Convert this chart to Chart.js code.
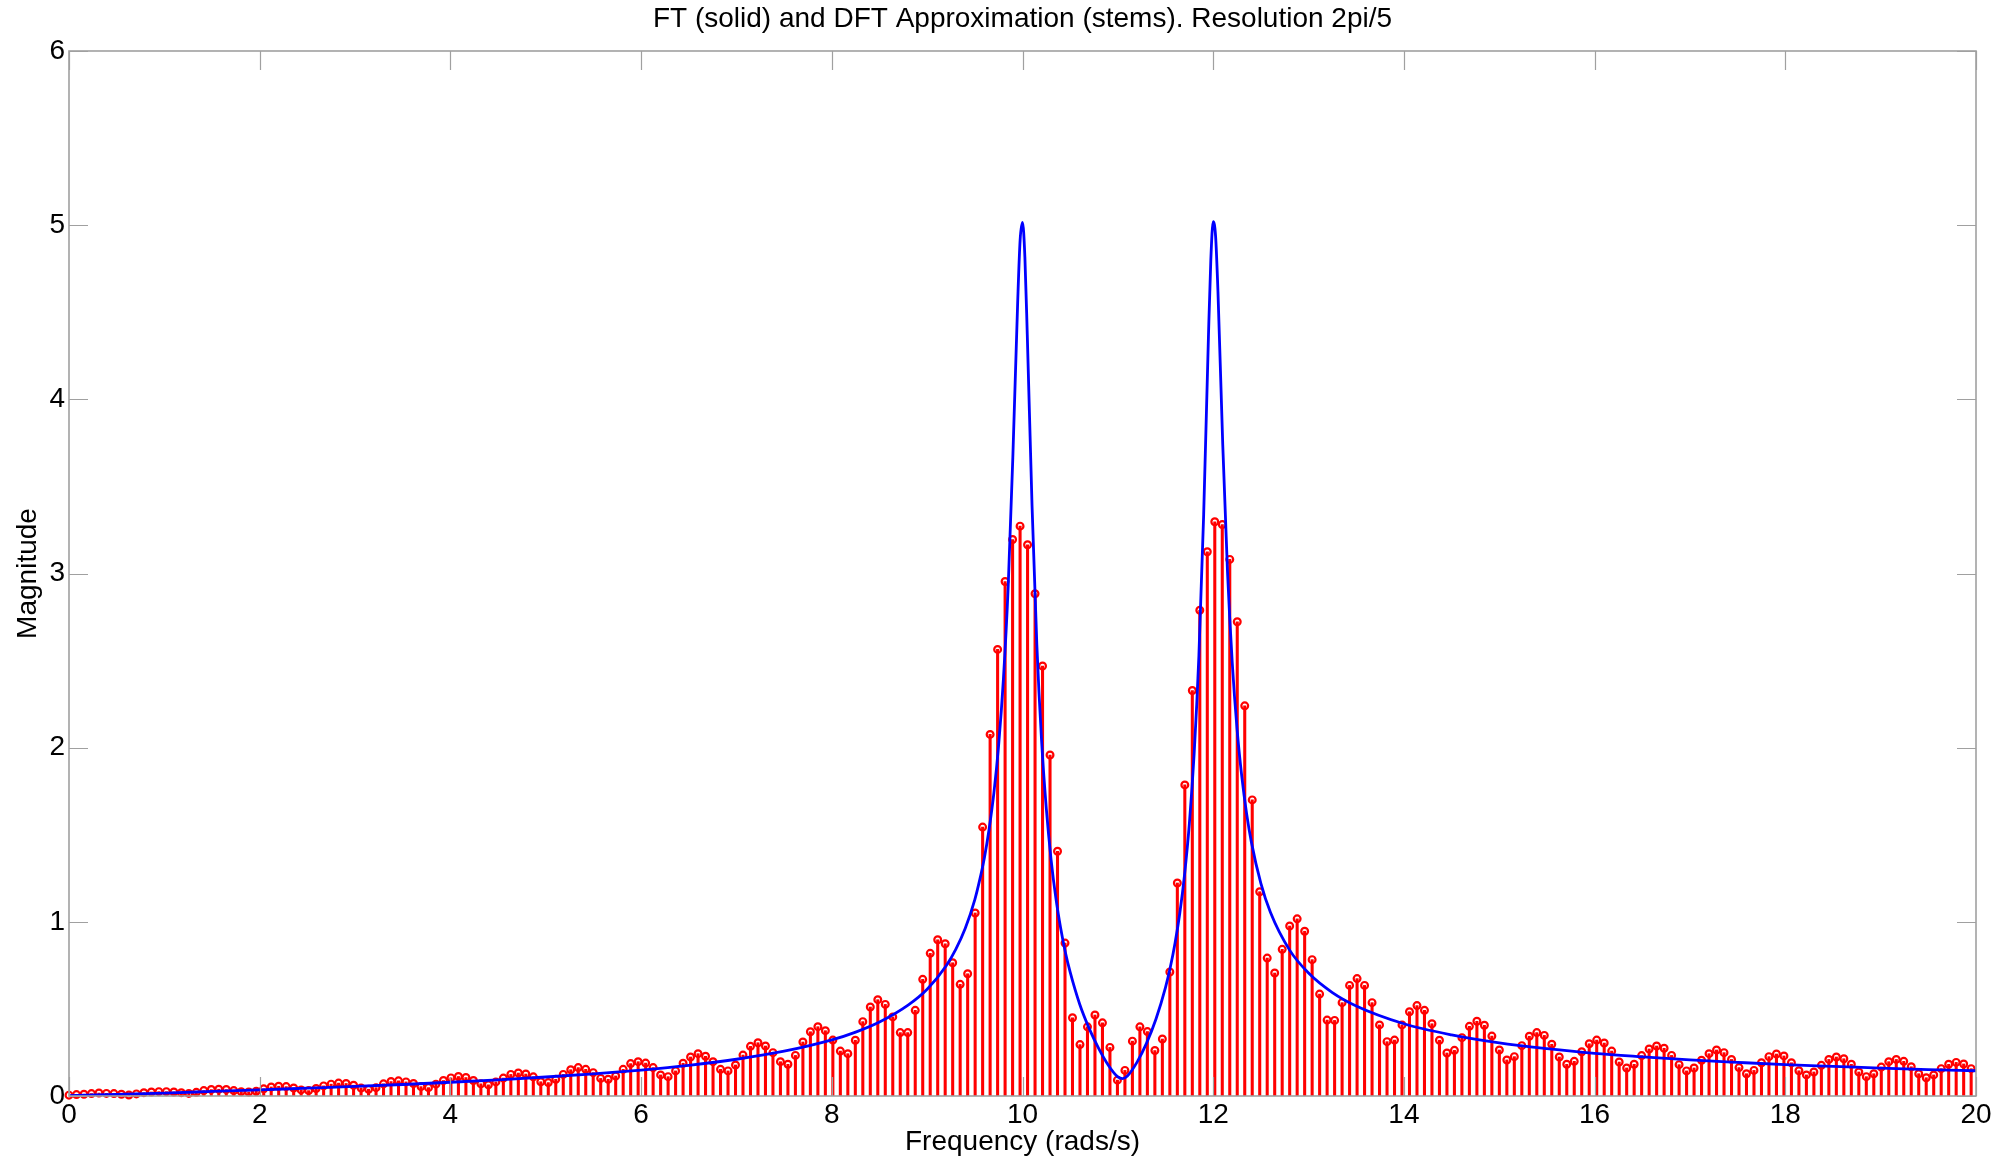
<!DOCTYPE html>
<html>
<head>
<meta charset="utf-8">
<title>FT e DFT</title>
<script src="https://cdn.jsdelivr.net/npm/chart.js@4.4.1/dist/chart.umd.min.js"></script>
<style>
  html, body { margin: 0; padding: 0; background: #fff; }
  canvas { display: block; }
</style>
</head>
<body>
<canvas id="grafico" width="2014" height="1161"></canvas>
<script>
// ===== Dados =====
// espaçamento entre as amostras da DFT (rad/s), ~2pi/80
const passoDft = 0.07854;

// módulo da DFT, uma amostra por haste (k = 0..254)
const dftMag = [
  0.005, 0.008, 0.010, 0.014, 0.017, 0.015, 0.014, 0.010, 0.006, 0.012,
  0.019, 0.023, 0.025, 0.025, 0.023, 0.019, 0.015, 0.021, 0.031, 0.037,
  0.039, 0.037, 0.031, 0.025, 0.023, 0.027, 0.041, 0.052, 0.056, 0.054,
  0.046, 0.035, 0.031, 0.043, 0.058, 0.068, 0.074, 0.072, 0.062, 0.046,
  0.039, 0.048, 0.070, 0.083, 0.087, 0.081, 0.072, 0.054, 0.048, 0.068,
  0.089, 0.104, 0.112, 0.106, 0.089, 0.070, 0.064, 0.081, 0.103, 0.124,
  0.132, 0.126, 0.110,
  0.082, 0.077, 0.096, 0.124, 0.151, 0.163, 0.153, 0.134, 0.101, 0.096,
  0.115, 0.153, 0.186, 0.197, 0.189, 0.163, 0.121, 0.111, 0.144, 0.188,
  0.224, 0.243, 0.228, 0.197, 0.153, 0.144, 0.178, 0.235, 0.285, 0.306,
  0.287, 0.249, 0.197, 0.182, 0.233, 0.310, 0.369, 0.398, 0.375, 0.321,
  0.258, 0.243, 0.320, 0.427, 0.511, 0.553, 0.526, 0.454, 0.364, 0.364,
  0.492, 0.670, 0.819, 0.897, 0.874, 0.765, 0.641, 0.702, 1.051, 1.544,
  2.076, 2.564, 2.954, 3.195, 3.272, 3.165, 2.884, 2.469, 1.958, 1.405,
  0.878, 0.449, 0.295, 0.397, 0.465, 0.420, 0.279, 0.091, 0.147, 0.315,
  0.397, 0.370, 0.261, 0.327, 0.712, 1.223, 1.786, 2.328, 2.789, 3.125,
  3.297, 3.281, 3.081, 2.723, 2.240, 1.700, 1.173, 0.792, 0.706, 0.842,
  0.976, 1.017, 0.946, 0.783, 0.585, 0.436,
  0.434, 0.536, 0.635, 0.674, 0.635, 0.536, 0.408, 0.312, 0.321, 0.408,
  0.484, 0.519, 0.492, 0.415, 0.320, 0.247, 0.262, 0.335, 0.400, 0.429,
  0.406, 0.344, 0.264, 0.207, 0.226, 0.289, 0.343, 0.364, 0.348, 0.297,
  0.224, 0.182, 0.199, 0.254, 0.300, 0.321, 0.304, 0.258, 0.195, 0.161,
  0.182, 0.232, 0.270, 0.287, 0.274, 0.233, 0.180, 0.144, 0.161, 0.205,
  0.243, 0.264, 0.249, 0.210, 0.163, 0.128, 0.147, 0.191, 0.226, 0.241,
  0.230, 0.191, 0.145, 0.121, 0.138,
  0.176, 0.210, 0.224, 0.214, 0.182, 0.138, 0.111, 0.128, 0.166, 0.197,
  0.210, 0.199, 0.168, 0.128, 0.105, 0.121, 0.157, 0.182, 0.193, 0.184,
  0.157
];

// curva contínua (FT): frequências e módulos
const ftFreq = [
  0, 0.5, 1, 1.5, 2, 2.5, 3, 3.5, 4, 4.5,
  5, 5.5, 6, 6.5, 7, 7.5, 8, 8.25, 8.5, 8.8,
  9, 9.2, 9.3, 9.4, 9.5, 9.55, 9.6, 9.65, 9.7, 9.75,
  9.8, 9.85, 9.9, 9.95, 9.975, 10, 10.025, 10.05, 10.1, 10.15,
  10.2, 10.25, 10.3, 10.35, 10.4, 10.45, 10.5, 10.6, 10.7, 10.8,
  10.9, 11, 11.05, 11.1, 11.2, 11.3, 11.4, 11.5, 11.55, 11.6,
  11.65, 11.7, 11.75, 11.8, 11.85, 11.9, 11.95, 11.975, 12, 12.025,
  12.05, 12.1, 12.15, 12.2, 12.25, 12.3, 12.35, 12.4, 12.5, 12.6,
  12.8, 13, 13.25, 13.5, 14, 14.5, 15, 15.5, 16, 16.5,
  17, 17.5, 18, 18.5, 19, 19.5, 20
];
const ftMag = [
  0.002, 0.009, 0.017, 0.026, 0.035, 0.045, 0.055, 0.066, 0.079, 0.093,
  0.109, 0.127, 0.149, 0.176, 0.211, 0.257, 0.322, 0.367, 0.425, 0.522,
  0.613, 0.748, 0.842, 0.963, 1.128, 1.238, 1.367, 1.533, 1.740, 2.016,
  2.395, 2.925, 3.690, 4.567, 4.914, 5.016, 4.817, 4.373, 3.390, 2.595,
  2.041, 1.649, 1.356, 1.136, 0.965, 0.824, 0.711, 0.527, 0.387, 0.272,
  0.177, 0.110, 0.100, 0.115, 0.193, 0.302, 0.442, 0.624, 0.739, 0.879,
  1.051, 1.273, 1.564, 1.964, 2.527, 3.338, 4.358, 4.800, 5.020, 4.937,
  4.617, 3.742, 3.010, 2.486, 2.108, 1.834, 1.623, 1.459, 1.221, 1.055,
  0.839, 0.706, 0.594, 0.517, 0.415, 0.351, 0.305, 0.272, 0.245, 0.225,
  0.207, 0.193, 0.180, 0.170, 0.160, 0.152, 0.145
];

const ticksX = [0, 2, 4, 6, 8, 10, 12, 14, 16, 18, 20];
const ticksY = [0, 1, 2, 3, 4, 5, 6];

// ===== Estilo =====
const FONTE = "'Liberation Sans', Arial, Helvetica, sans-serif";
const TAM_TICK = 19;   // marcas para dentro, estilo MATLAB
Chart.defaults.font.family = FONTE;
Chart.defaults.font.size = 28;
Chart.defaults.color = "#000";

// moldura + marcas internas nos quatro lados
const moldura = {
  id: "moldura",
  afterDatasetsDraw(chart) {
    const { ctx, chartArea: a, scales: { x, y } } = chart;
    ctx.save();
    ctx.strokeStyle = "#a0a0a0";
    ctx.lineWidth = 1.2;
    ctx.beginPath();
    ticksX.forEach(v => {
      const px = Math.round(x.getPixelForValue(v)) + 0.5;
      ctx.moveTo(px, a.bottom); ctx.lineTo(px, a.bottom - TAM_TICK);
      ctx.moveTo(px, a.top); ctx.lineTo(px, a.top + TAM_TICK);
    });
    ticksY.forEach(v => {
      const py = Math.round(y.getPixelForValue(v)) + 0.5;
      ctx.moveTo(a.left, py); ctx.lineTo(a.left + TAM_TICK, py);
      ctx.moveTo(a.right, py); ctx.lineTo(a.right - TAM_TICK, py);
    });
    ctx.stroke();
    ctx.lineWidth = 1.6;
    ctx.strokeRect(a.left, a.top, a.right - a.left, a.bottom - a.top);
    ctx.restore();
  }
};

// ===== Gráfico =====
const hastes = dftMag.map((m, k) => ({ x: k * passoDft, y: m }));
const curva = ftFreq.map((w, i) => ({ x: w, y: ftMag[i] }));

new Chart(document.getElementById("grafico"), {
  type: "bar",
  data: {
    datasets: [
      { type: "line", label: "FT", data: curva, borderColor: "#0000ff", borderWidth: 2.8,
        pointRadius: 0, cubicInterpolationMode: "monotone", order: 0 },
      { type: "scatter", label: "marcas", data: hastes, pointRadius: 3.4, pointBorderWidth: 2.2,
        pointBorderColor: "#ff0000", pointBackgroundColor: "rgba(0,0,0,0)", clip: false, order: 1 },
      { type: "bar", label: "DFT", data: hastes, backgroundColor: "#ff0000",
        barThickness: 2.4, order: 2 },
    ]
  },
  options: {
    responsive: false,
    animation: false,
    devicePixelRatio: 1,
    layout: { padding: { right: 38 } },
    plugins: {
      legend: { display: false },
      tooltip: { enabled: false },
      title: {
        display: true, fullSize: false,
        text: "FT (solid) and DFT Approximation (stems). Resolution 2pi/5",
        font: { size: 28, weight: "normal" }, color: "#000",
        padding: { top: 2, bottom: 15.4 }
      }
    },
    scales: {
      x: {
        type: "linear", min: 0, max: 20, offset: false,
        grid: { display: false, drawTicks: false }, border: { display: false },
        ticks: { padding: 2, maxRotation: 0, autoSkip: false },
        afterBuildTicks: s => { s.ticks = ticksX.map(v => ({ value: v })); },
        afterFit: s => { s.height = 65; },
        title: { display: true, text: "Frequency (rads/s)", font: { size: 28 },
                 padding: { top: 0, bottom: 2 } }
      },
      y: {
        type: "linear", min: 0, max: 6,
        grid: { display: false, drawTicks: false }, border: { display: false },
        ticks: { padding: 4, autoSkip: false },
        afterBuildTicks: s => { s.ticks = ticksY.map(v => ({ value: v })); },
        afterFit: s => { s.width = 69; },
        title: { display: true, text: "Magnitude", font: { size: 28 },
                 padding: { top: 11, bottom: 0 } }
      }
    }
  },
  plugins: [moldura]
});
</script>
</body>
</html>
